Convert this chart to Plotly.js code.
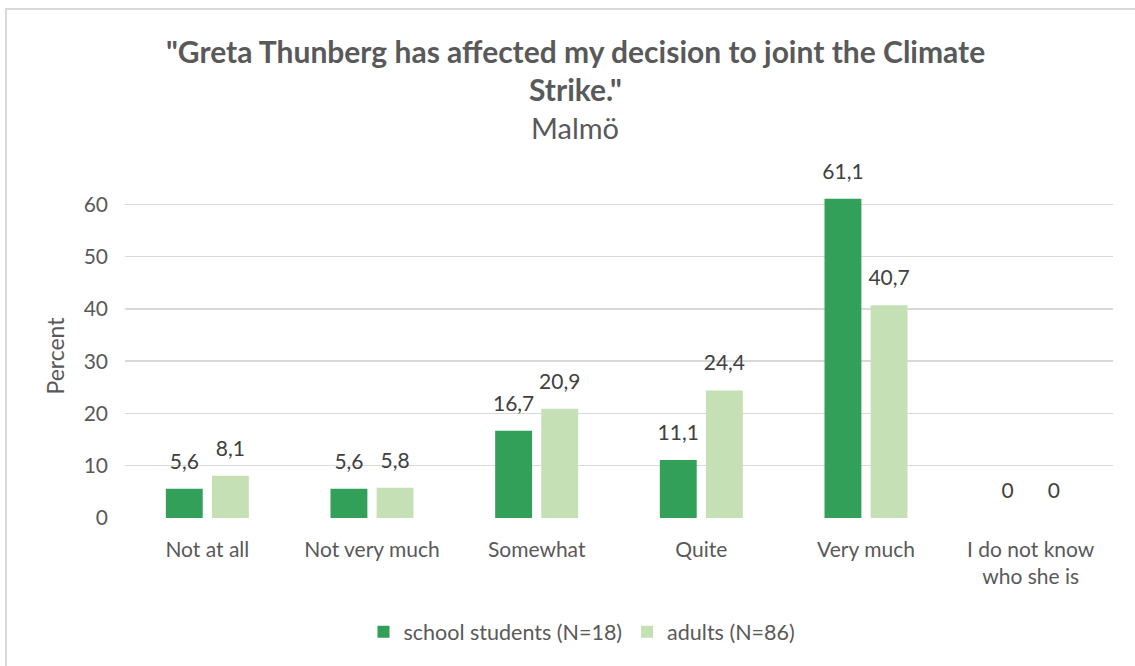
<!DOCTYPE html>
<html>
<head>
<meta charset="utf-8">
<script src="https://cdn.plot.ly/plotly-3.0.1.min.js"></script>
<style>
  html, body { margin: 0; padding: 0; background: #fff; }
  #wrap { position: relative; width: 1135px; height: 666px; overflow: hidden; }
  #chart { width: 1135px; height: 666px; }
  #frame { position: absolute; left: 5px; top: 8px; right: -4px; bottom: -4px;
           border-left: 2px solid #d9d9d9; border-top: 2px solid #d9d9d9; pointer-events: none; }
</style>
</head>
<body>
<div id="wrap">
  <div id="chart"></div>
  <div id="frame"></div>
</div>
<script>
const categories = ["Not at all", "Not very much", "Somewhat", "Quite", "Very much", "I do not know<br>who she is"];
const seriesNames = ["school students (N=18)", "adults (N=86)"];
const students = [5.6, 5.6, 16.7, 11.1, 61.1, 0];
const adults = [8.1, 5.8, 20.9, 24.4, 40.7, 0];
const yTicks = [0, 10, 20, 30, 40, 50, 60];

const fmt = v => String(v).replace('.', ',');
const FONT = "Lato, 'Open Sans', sans-serif";
const GREY = "#595959";
const series = [
  { name: seriesNames[0], values: students, color: "#33a05a" },
  { name: seriesNames[1], values: adults, color: "#c5e0b4" }
];

const barTraces = series.map(s => ({
  type: "bar",
  x: categories,
  y: s.values,
  name: s.name,
  marker: { color: s.color },
  hoverinfo: "x+y"
}));

// data labels: transparent markers push the text up above each bar
const labelTraces = series.map(s => ({
  type: "scatter",
  mode: "markers+text",
  x: categories,
  y: s.values,
  showlegend: false,
  marker: { color: "rgba(0,0,0,0)", size: 22 },
  text: s.values.map(fmt),
  textposition: "top center",
  cliponaxis: false,
  textfont: { family: FONT, size: 21, color: "#404040" },
  hoverinfo: "skip"
}));

const layout = {
  width: 1135, height: 666,
  paper_bgcolor: "#fff", plot_bgcolor: "#fff",
  margin: { l: 125, r: 22, t: 193.5, b: 148 },
  font: { family: FONT, color: GREY, size: 21 },
  barmode: "group",
  bargap: 0.44, bargroupgap: 0.2,
  scattermode: "group", scattergap: 0.44,
  showlegend: true,
  legend: { orientation: "h", xanchor: "center", y: -0.351, yanchor: "middle",
            font: { family: FONT, size: 21.5, color: GREY }, traceorder: "normal",
            itemwidth: 30, tracegroupgap: 0 },
  xaxis: { type: "category", showgrid: false, zeroline: false, showline: false,
           ticks: "", ticklabelstandoff: 17,
           tickfont: { family: FONT, size: 21, color: GREY } },
  yaxis: { range: [0, 62], tickvals: yTicks, showgrid: true, gridcolor: "#d9d9d9", gridwidth: 1.5,
           zeroline: false, showline: false, ticks: "", ticklabelstandoff: 16,
           tickfont: { family: FONT, size: 21, color: GREY },
           title: { text: "Percent", font: { family: FONT, size: 23, color: GREY }, standoff: 12 } }
};

function py(pxY) {
  const h = 666 - layout.margin.t - layout.margin.b;
  return (666 - layout.margin.b - pxY) / h;
}
function pxx(pxX) {
  const w = 1135 - layout.margin.l - layout.margin.r;
  return (pxX - layout.margin.l) / w;
}
layout.legend.x = pxx(582);
layout.annotations = [
  { text: "<b>\"Greta Thunberg has affected my decision to joint the Climate</b>", xref: "paper", yref: "paper",
    x: pxx(575), y: py(50), xanchor: "center", yanchor: "middle", showarrow: false,
    font: { family: FONT, size: 30, color: GREY } },
  { text: "<b>Strike.\"</b>", xref: "paper", yref: "paper",
    x: pxx(575), y: py(88), xanchor: "center", yanchor: "middle", showarrow: false,
    font: { family: FONT, size: 30, color: GREY } },
  { text: "Malmö", xref: "paper", yref: "paper",
    x: pxx(575), y: py(127), xanchor: "center", yanchor: "middle", showarrow: false,
    font: { family: FONT, size: 29, color: GREY } }
];

Plotly.newPlot("chart", barTraces.concat(labelTraces), layout, { displayModeBar: false, staticPlot: true });
</script>
</body>
</html>
